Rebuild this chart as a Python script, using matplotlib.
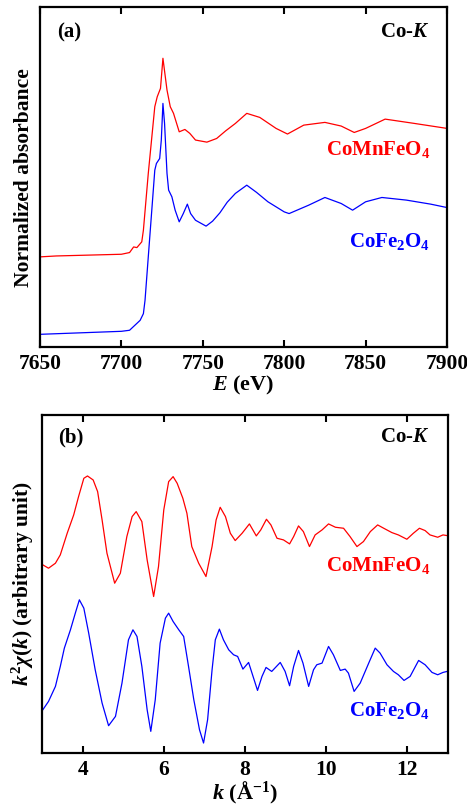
import numpy as np
import matplotlib
matplotlib.use('Agg')
import matplotlib.pyplot as plt

plt.rcParams['font.family'] = ['Liberation Serif', 'DejaVu Serif']
plt.rcParams['font.weight'] = 'bold'
plt.rcParams['axes.labelweight'] = 'bold'
plt.rcParams['mathtext.fontset'] = 'custom'
plt.rcParams['mathtext.rm'] = 'Liberation Serif:bold'
plt.rcParams['mathtext.it'] = 'Liberation Serif:italic:bold'
plt.rcParams['mathtext.bf'] = 'Liberation Serif:bold'

# (a) Co-K XANES, normalized absorbance
E_fe = [7650, 7700, 7705, 7711.5, 7713.5, 7714.5, 7716.5, 7718.5, 7720.5, 7721.5,
        7723.5, 7724.5, 7725.5, 7726.5, 7728, 7729, 7731, 7733, 7735.5, 7738,
        7740.5, 7742.5, 7745.5, 7752, 7756, 7760.5, 7765, 7770, 7777, 7783, 7790,
        7800, 7803, 7815, 7825, 7835, 7842, 7850, 7860, 7875, 7890, 7900]
mu_fe = [0.0, 0.023, 0.031, 0.107, 0.158, 0.260, 0.592, 0.923, 1.255, 1.306,
         1.344, 1.485, 1.765, 1.612, 1.230, 1.102, 1.051, 0.949, 0.860, 0.923,
         0.995, 0.923, 0.872, 0.827, 0.865, 0.929, 1.010, 1.077, 1.140, 1.085,
         1.013, 0.936, 0.923, 0.987, 1.046, 1.000, 0.949, 1.013, 1.046, 1.026,
         0.995, 0.969]

E_mn = [7650, 7660, 7700, 7705, 7707.5, 7709.5, 7712.5, 7713.5, 7716.5, 7718.5,
        7720.5, 7722, 7724, 7725.5, 7728, 7730, 7732, 7735.5, 7739, 7742,
        7745.5, 7752.5, 7758.5, 7764, 7770, 7777, 7785, 7795, 7802, 7812, 7825,
        7835, 7843, 7850, 7862, 7880, 7900]
mu_mn = [0.592, 0.599, 0.612, 0.625, 0.668, 0.663, 0.707, 0.796, 1.230, 1.485,
         1.740, 1.816, 1.880, 2.110, 1.867, 1.740, 1.689, 1.548, 1.566, 1.536,
         1.485, 1.469, 1.497, 1.555, 1.612, 1.689, 1.658, 1.574, 1.531, 1.599,
         1.620, 1.592, 1.543, 1.574, 1.645, 1.612, 1.574]

# (b) k^2 chi(k)
k_mn = [3.02, 3.16, 3.33, 3.45, 3.62, 3.78, 3.90, 4.03, 4.12, 4.26, 4.37, 4.48,
        4.60, 4.79, 4.93, 5.09, 5.22, 5.32, 5.46, 5.59, 5.75, 5.87, 6.00, 6.12,
        6.23, 6.33, 6.47, 6.57, 6.69, 6.86, 7.04, 7.19, 7.29, 7.39, 7.52, 7.64,
        7.76, 7.93, 8.11, 8.28, 8.39, 8.53, 8.64, 8.79, 8.95, 9.10, 9.20, 9.32,
        9.44, 9.59, 9.73, 9.90, 10.06, 10.23, 10.43, 10.59, 10.76, 10.92, 11.09,
        11.27, 11.42, 11.62, 11.78, 11.99, 12.15, 12.30, 12.44, 12.56, 12.75,
        12.88, 12.98]
chi_mn = [-0.95, -1.05, -0.90, -0.65, 0.00, 0.55, 1.10, 1.65, 1.72, 1.60, 1.25,
          0.40, -0.60, -1.50, -1.20, -0.10, 0.50, 0.65, 0.35, -0.80, -1.90,
          -1.00, 0.70, 1.55, 1.70, 1.50, 1.05, 0.60, -0.40, -0.90, -1.30, -0.40,
          0.40, 0.78, 0.50, 0.00, -0.22, 0.00, 0.28, -0.08, 0.10, 0.42, 0.25,
          -0.15, -0.20, -0.32, -0.10, 0.22, 0.05, -0.40, -0.05, 0.10, 0.28, 0.18,
          0.15, -0.10, -0.40, -0.25, 0.05, 0.25, 0.15, 0.02, -0.05, -0.18, 0.00,
          0.15, 0.08, -0.05, -0.12, -0.05, -0.07]

k_fe = [3.02, 3.16, 3.33, 3.45, 3.55, 3.70, 3.82, 3.92, 4.03, 4.15, 4.31, 4.48,
        4.64, 4.81, 4.97, 5.13, 5.24, 5.34, 5.46, 5.59, 5.68, 5.79, 5.91, 6.04,
        6.12, 6.23, 6.37, 6.49, 6.61, 6.74, 6.88, 6.98, 7.08, 7.19, 7.27, 7.37,
        7.47, 7.60, 7.72, 7.82, 7.95, 8.09, 8.20, 8.31, 8.42, 8.52, 8.66, 8.87,
        8.99, 9.10, 9.20, 9.32, 9.43, 9.57, 9.69, 9.77, 9.90, 10.06, 10.18,
        10.35, 10.47, 10.55, 10.69, 10.84, 11.05, 11.21, 11.33, 11.50, 11.66,
        11.78, 11.92, 12.07, 12.28, 12.44, 12.61, 12.75, 12.88, 12.98]
chi_fe = [-1.20, -0.95, -0.50, 0.10, 0.65, 1.20, 1.70, 2.10, 1.85, 1.10, 0.00,
          -1.00, -1.68, -1.40, -0.40, 0.90, 1.20, 1.00, 0.10, -1.20, -1.85,
          -0.90, 0.80, 1.55, 1.70, 1.45, 1.20, 1.00, 0.10, -0.90, -1.80, -2.20,
          -1.50, 0.00, 0.90, 1.22, 0.90, 0.60, 0.45, 0.40, 0.02, 0.22, -0.20,
          -0.62, -0.20, 0.07, -0.05, 0.22, -0.05, -0.48, 0.10, 0.58, 0.20, -0.50,
          0.00, 0.15, 0.20, 0.70, 0.45, -0.02, 0.02, -0.10, -0.65, -0.40, 0.20,
          0.65, 0.50, 0.15, -0.05, -0.15, -0.32, -0.20, 0.28, 0.15, -0.08, -0.15,
          -0.08, -0.05]

off_mn = 6.6
off_fe = 2.5

red = '#ff0000'
blue = '#0000ff'

fig = plt.figure(figsize=(4.67, 8.07), dpi=100)
ax1 = fig.add_axes([0.0857, 0.570, 0.8715, 0.421])
ax2 = fig.add_axes([0.090, 0.0669, 0.869, 0.4188])


def style(ax):
    for s in ax.spines.values():
        s.set_linewidth(1.6)
    ax.tick_params(axis='x', which='major', direction='in', top=True, bottom=True,
                   length=5, width=1.5, labelsize=15.5, pad=5)
    ax.tick_params(axis='y', left=False, right=False, labelleft=False)
    for lab in ax.get_xticklabels():
        lab.set_fontweight('bold')


ax1.plot(E_mn, mu_mn, color=red, lw=0.9)
ax1.plot(E_fe, mu_fe, color=blue, lw=0.9)
ax1.set_xlim(7650, 7900)
ax1.set_ylim(-0.097, 2.5)
ax1.set_xticks([7650, 7700, 7750, 7800, 7850, 7900])
style(ax1)
ax1.set_xlabel('$E$ (eV)', fontsize=16, labelpad=0)
ax1.set_ylabel('Normalized absorbance', fontsize=15.5, labelpad=4)
ax1.text(0.042, 0.926, '(a)', transform=ax1.transAxes, fontsize=15, va='center')
ax1.text(0.958, 0.926, 'Co-$K$', transform=ax1.transAxes, fontsize=15, va='center', ha='right')
ax1.text(0.958, 0.58, 'CoMnFeO$_4$', transform=ax1.transAxes, fontsize=15, va='center', ha='right', color=red)
ax1.text(0.958, 0.31, 'CoFe$_2$O$_4$', transform=ax1.transAxes, fontsize=15, va='center', ha='right', color=blue)

ax2.plot(k_mn, np.array(chi_mn) + off_mn, color=red, lw=0.9)
ax2.plot(k_fe, np.array(chi_fe) + off_fe, color=blue, lw=0.9)
ax2.set_xlim(3, 13)
ax2.set_ylim(0, 10.15)
ax2.set_xticks([4, 6, 8, 10, 12])
style(ax2)
ax2.set_xlabel('$k$ (Å$^{-1}$)', fontsize=16, labelpad=0)
ax2.set_ylabel('$k^2\\chi(k)$ (arbitrary unit)', fontsize=15.5, labelpad=4)
ax2.text(0.04, 0.935, '(b)', transform=ax2.transAxes, fontsize=15, va='center')
ax2.text(0.956, 0.935, 'Co-$K$', transform=ax2.transAxes, fontsize=15, va='center', ha='right')
ax2.text(0.956, 0.556, 'CoMnFeO$_4$', transform=ax2.transAxes, fontsize=15, va='center', ha='right', color=red)
ax2.text(0.956, 0.127, 'CoFe$_2$O$_4$', transform=ax2.transAxes, fontsize=15, va='center', ha='right', color=blue)

fig.savefig('out.png', dpi=100)
